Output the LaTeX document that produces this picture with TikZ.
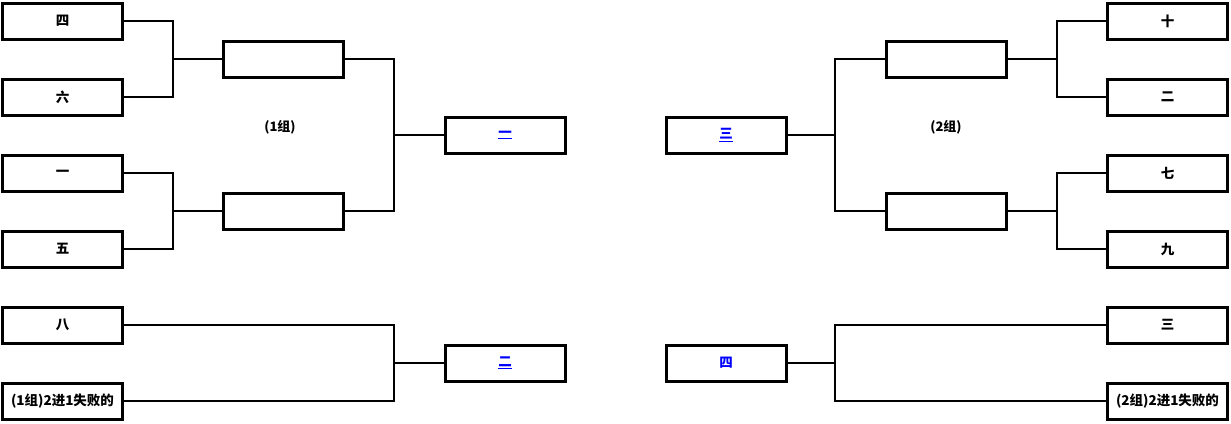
\documentclass[tikz,border=0pt]{standalone}
\usepackage{fontspec}
\newfontfamily\cjk{Noto Sans CJK SC}
\usetikzlibrary{positioning}

\tikzset{
    team/.style={draw, line width=3pt, minimum width=120pt, minimum height=36pt,
        inner sep=0pt, font=\cjk\bfseries\fontsize{13.5}{15}\selectfont},
    win/.style={team, text=blue},
    link/.style={line width=2pt},
    grp/.style={font=\cjk\bfseries\fontsize{13}{15}\selectfont}
}

\begin{document}
\begin{tikzpicture}[x=1pt, y=-1pt]
    \useasboundingbox (0,0) rectangle (1231,423);

    % Group 1 entries
    \foreach \name/\ypos/\txt in {la/21/四, lb/97/六, lc/173/一, ld/249/五, le/325/八,
                                  lf/401/(1组)2进1失败的} {
        \node[team] (\name) at (62.5,\ypos) {\txt};
    }
    \node[team] (lsa) at (283.5,59) {};
    \node[team] (lsb) at (283.5,211) {};
    \node[win] (lfin) at (505,135) {\underline{一}};
    \node[win] (lrep) at (505,363) {\underline{二}};
    \node[grp] (lgrp) at (280,127) {(1组)};

    % Group 2 entries
    \foreach \name/\ypos/\txt in {ra/21/十, rb/97/二, rc/173/七, rd/249/九, re/325/三,
                                  rf/401/(2组)2进1失败的} {
        \node[team] (\name) at (1167.5,\ypos) {\txt};
    }
    \node[team] (rsa) at (946.5,59) {};
    \node[team] (rsb) at (946.5,211) {};
    \node[win] (rfin) at (726,135) {\underline{三}};
    \node[win] (rrep) at (726,363) {四};
    \node[grp] (rgrp) at (946,127) {(2组)};

    % Left brackets
    \draw[link] (la.east) -- ++(49,0) |- (lb.east);
    \draw[link] (lc.east) -- ++(49,0) |- (ld.east);
    \draw[link] (lsa.west) -- ++(-49,0);
    \draw[link] (lsb.west) -- ++(-49,0);
    \draw[link] (lsa.east) -- ++(49,0) |- (lsb.east);
    \draw[link] (lfin.west) -- ++(-50,0);
    \draw[link] (le.east) -- ++(270,0) |- (lf.east);
    \draw[link] (lrep.west) -- ++(-50,0);

    % Right brackets
    \draw[link] (ra.west) -- ++(-49,0) |- (rb.west);
    \draw[link] (rc.west) -- ++(-49,0) |- (rd.west);
    \draw[link] (rsa.east) -- ++(49,0);
    \draw[link] (rsb.east) -- ++(49,0);
    \draw[link] (rsa.west) -- ++(-50,0) |- (rsb.west);
    \draw[link] (rfin.east) -- ++(48,0);
    \draw[link] (re.west) -- ++(-271,0) |- (rf.west);
    \draw[link] (rrep.east) -- ++(48,0);

\end{tikzpicture}
\end{document}
